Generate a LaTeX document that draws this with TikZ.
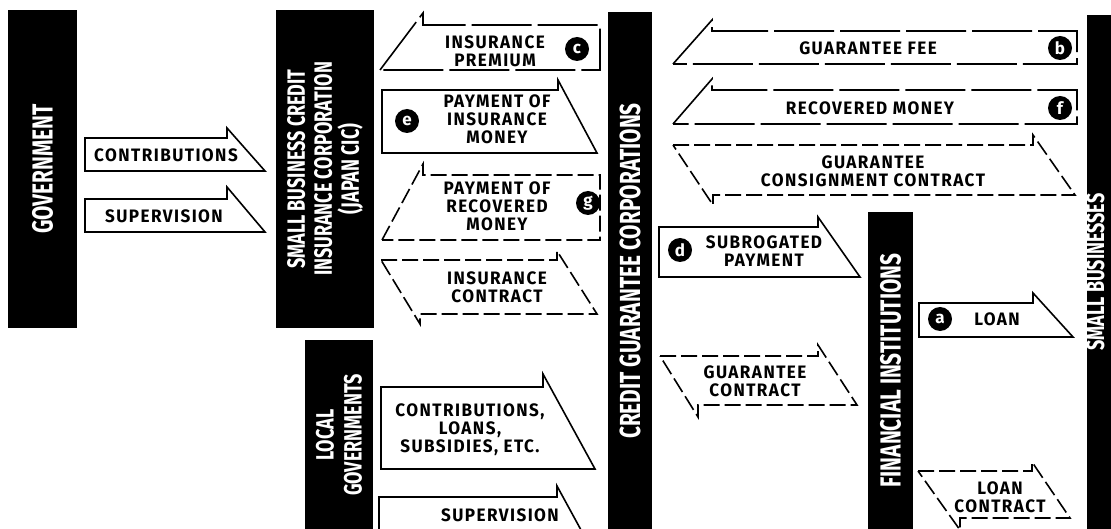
\documentclass[tikz,border=0pt]{standalone}
\usepackage{fontspec}
\setmainfont{Fira Sans}
\newfontfamily\barfamily{Fira Sans}[FakeStretch=0.72]
\newfontfamily\lblfamily{Fira Sans}[LetterSpace=8,FakeStretch=0.95]
\usetikzlibrary{positioning}

\begin{document}
\begin{tikzpicture}[x=1pt, y=-1pt,
    bar/.style={rectangle, fill=black, text=white, inner sep=0pt, rotate=90, align=center, font=\barfamily\bfseries\fontsize{29}{28}\selectfont},
    lbl/.style={align=center, inner sep=0pt, font=\lblfamily\bfseries\fontsize{18}{18}\selectfont},
    tag/.style={circle, fill=black, text=white, inner sep=0pt, minimum size=24pt, font=\bfseries\fontsize{17}{17}\selectfont},
    flow/.style={draw, line width=1.6pt},
    slowflow/.style={flow, dash pattern=on 60pt off 6pt},
    deal/.style={flow, dash pattern=on 16pt off 5pt}
]
\clip (0,0) rectangle (1111,529);

% bars
\node [bar, minimum width=318pt, minimum height=69pt] (gov) at (42.5,169) {GOVERNMENT};
\node [bar, minimum width=318pt, minimum height=98pt, font=\barfamily\bfseries\fontsize{25}{27}\selectfont] (cic) at (325,169)
    {SMALL BUSINESS CREDIT\\INSURANCE CORPORATION\\(JAPAN CIC)};
\node [bar, minimum width=190pt, minimum height=68pt, font=\barfamily\bfseries\fontsize{25}{28}\selectfont] (locgov) at (339,435) {LOCAL\\GOVERNMENTS};
\node [bar, minimum width=517pt, minimum height=44pt] (cgc) at (630,271) {CREDIT GUARANTEE CORPORATIONS};
\node [bar, minimum width=317pt, minimum height=45pt] (fin) at (890.5,370.5) {FINANCIAL INSTITUTIONS};
\node [bar, minimum width=514pt, minimum height=24pt, text height=17pt, text depth=7pt, font=\barfamily\bfseries\fontsize{25}{28}\selectfont] (smb) at (1099,272) {SMALL BUSINESSES};

% government -> cic
\draw [flow] (85,171) -- (85,138) -- (227,138) -- (227,128) -- (265,171) -- cycle;
\node [lbl] (contrib) at (166,155) {CONTRIBUTIONS};
\draw [flow] (85,232) -- (85,199) -- (227,199) -- (227,187) -- (265,232) -- cycle;
\node [lbl] (superv) at (164,216) {SUPERVISION};

% cic <-> cgc
\draw [slowflow] (380,70) -- (423,13) -- (423,25) -- (600,25) -- (600,70) -- cycle;
\node [lbl] (premium) at (495,51) {INSURANCE\\PREMIUM};
\node [tag] (tagc) at (577,49) {c};
\draw [flow] (382,153) -- (382,90) -- (558,90) -- (558,80) -- (597,153) -- cycle;
\node [lbl] (insmoney) at (497,119) {PAYMENT OF\\INSURANCE\\MONEY};
\node [tag] (tage) at (407,121) {e};
\draw [deal] (382,240) -- (423,164) -- (423,175) -- (600,175) -- (600,240) -- cycle;
\node [lbl] (recpay) at (497,206) {PAYMENT OF\\RECOVERED\\MONEY};
\node [tag] (tagg) at (588,203) {g};
\draw [deal] (381,260) -- (557,260) -- (557,251) -- (597,314) -- (420,314) -- (420,324) -- cycle;
\node [lbl] (inscontract) at (497,287) {INSURANCE\\CONTRACT};

% local governments -> cgc
\draw [flow] (381,469) -- (381,387) -- (543,387) -- (543,374) -- (595,469) -- cycle;
\node [lbl] (subsidies) at (470,430) {CONTRIBUTIONS,\\LOANS,\\SUBSIDIES, ETC.};
\draw [flow] (379,552) -- (379,497) -- (557,497) -- (557,486) -- (593,552) -- cycle;
\node [lbl] (superv2) at (500,515) {SUPERVISION};

% cgc <-> small businesses
\draw [slowflow] (673,64) -- (712,20) -- (712,31) -- (1077,31) -- (1077,64) -- cycle;
\node [lbl] (fee) at (868,48) {GUARANTEE FEE};
\node [tag] (tagb) at (1060,48) {b};
\draw [slowflow] (673,124) -- (712,79) -- (712,90) -- (1077,90) -- (1077,124) -- cycle;
\node [lbl] (recovered) at (870,108) {RECOVERED MONEY};
\node [tag] (tagf) at (1060,108) {f};
\draw [deal] (673,145) -- (1033,145) -- (1033,135) -- (1075,195) -- (713,195) -- (713,205) -- cycle;
\node [lbl] (consign) at (873,171) {GUARANTEE\\CONSIGNMENT CONTRACT};

% cgc <-> financial institutions
\draw [flow] (659,277) -- (659,227) -- (818,227) -- (818,217) -- (860,277) -- cycle;
\node [lbl] (subro) at (764,251) {SUBROGATED\\PAYMENT};
\node [tag] (tagd) at (680,250) {d};
\draw [deal] (660,356) -- (818,356) -- (818,345) -- (857,405) -- (698,405) -- (698,417) -- cycle;
\node [lbl] (gcontract) at (755,381) {GUARANTEE\\CONTRACT};

% financial institutions <-> small businesses
\draw [flow] (919,337) -- (919,303) -- (1033,303) -- (1033,293) -- (1073,337) -- cycle;
\node [lbl] (loan) at (997,319) {LOAN};
\node [tag] (taga) at (940,319) {a};
\draw [deal] (918,471) -- (1032,471) -- (1032,462) -- (1070,518) -- (960,518) -- (960,530) -- cycle;
\node [lbl] (lcontract) at (1000,497) {LOAN\\CONTRACT};

\end{tikzpicture}
\end{document}
